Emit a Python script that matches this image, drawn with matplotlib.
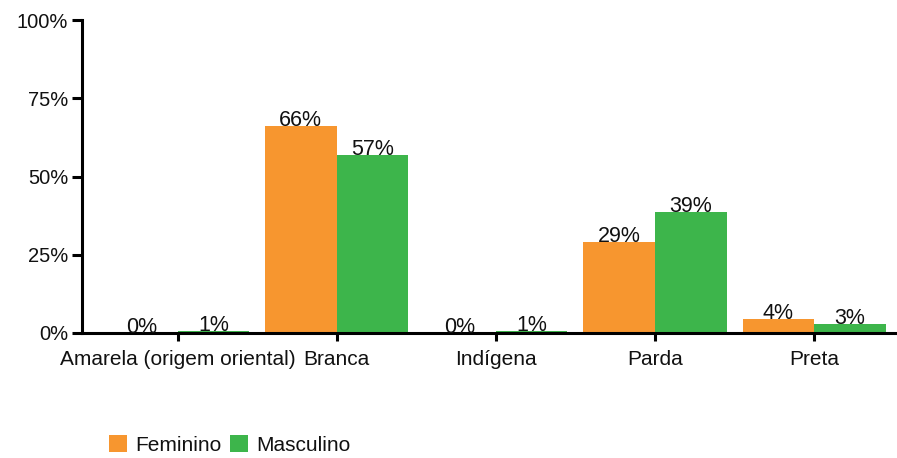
import matplotlib
matplotlib.use("Agg")
import matplotlib.pyplot as plt
import numpy as np
from matplotlib.ticker import FuncFormatter

plt.rcParams['font.family'] = ['Liberation Sans', 'DejaVu Sans']

categories = ["Amarela (origem oriental)", "Branca", "Indígena", "Parda", "Preta"]
feminino = [0.0, 66.0, 0.0, 29.0, 4.4]
masculino = [0.6, 57.0, 0.6, 38.7, 2.9]
series_names = ["Feminino", "Masculino"]
colors = ["#F7962F", "#3DB54B"]
yticks = [0, 25, 50, 75, 100]

fig = plt.figure(figsize=(8.97, 4.58), dpi=100)
ax = fig.add_axes([82/897, 1-333/458, 1-82/897, 313/458])

x = np.arange(len(categories))
w = 0.45
bars = []
for i, (vals, name, c) in enumerate(zip([feminino, masculino], series_names, colors)):
    pos = x + (i - 0.5) * w
    b = ax.bar(pos, vals, width=w, color=c, label=name, linewidth=0)
    bars.append(b)
    for p, v in zip(pos, vals):
        ax.text(p, v, f"{v:.0f}%", ha='center', va='baseline', fontsize=15.5, color='#111111')

ax.set_xlim(-0.6, 4.52)
ax.set_ylim(0, 100)
ax.set_yticks(yticks)
ax.yaxis.set_major_formatter(FuncFormatter(lambda v, p: f"{v:.0f}%"))
ax.set_xticks(x)
ax.set_xticklabels(categories)
for s in ['top', 'right']:
    ax.spines[s].set_visible(False)
for s in ['left', 'bottom']:
    ax.spines[s].set_linewidth(2.2)
    ax.spines[s].set_color('black')
ax.tick_params(axis='y', length=7, width=2.2, labelsize=14.5, pad=3, labelcolor='#111111')
ax.tick_params(axis='x', length=6, width=2.2, labelsize=15, pad=6, labelcolor='#111111')

fig.legend(handles=bars, labels=series_names, loc='center left',
           bbox_to_anchor=(101/897, 1-445/458), ncol=2, frameon=False,
           fontsize=15, handlelength=0.85, handleheight=0.85, handletextpad=0.4,
           columnspacing=0.4, borderaxespad=0, labelcolor='#111111')

fig.savefig("out.png", dpi=100)
